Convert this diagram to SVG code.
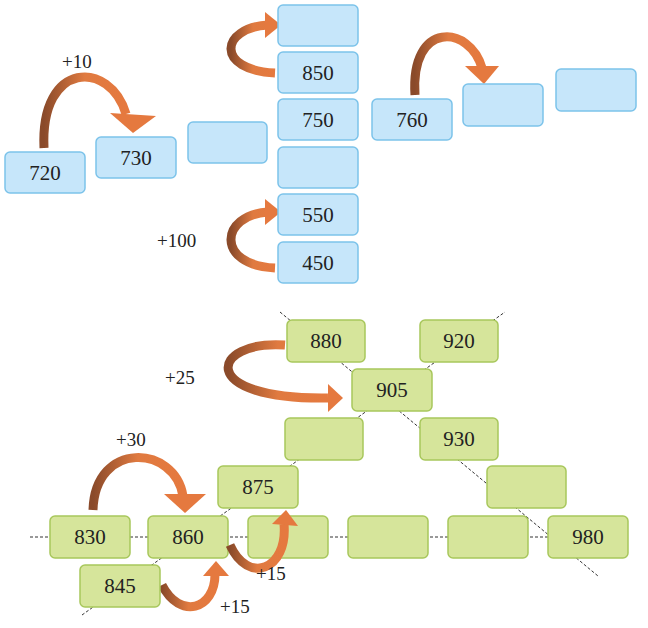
<svg xmlns="http://www.w3.org/2000/svg" width="648" height="628" viewBox="0 0 648 628">
<style>
.b{fill:#c6e6fa;stroke:#7cc3ea;stroke-width:1.5}
.g{fill:#d6e59b;stroke:#a8c75c;stroke-width:1.5}
.t{font-family:"Liberation Serif",serif;font-size:21px;fill:#222;text-anchor:middle}
.l{font-family:"Liberation Serif",serif;font-size:19px;fill:#222}
.a{fill:none;stroke:url(#gr);stroke-width:9}
.h{fill:#e5793f}
.d{stroke:#333;stroke-width:1;stroke-dasharray:3,2;fill:none}
</style>
<defs>
<linearGradient id="gr" x1="0" y1="0" x2="1" y2="0"><stop offset="0" stop-color="#8a4a2a"/><stop offset="0.5" stop-color="#e07a40"/><stop offset="1" stop-color="#e5793f"/></linearGradient>
</defs>
<g id="connectors">
<path class="d" d="M30,537 H548"/>
<path class="d" d="M82,615 L505,312"/>
<path class="d" d="M280,312 L598,576"/>
<path class="a" d="M44,148 C40,60 110,60 126,114"/><polygon class="h" points="133,133 110,113 156,116"/>
<path class="a" d="M275,73 C215,70 220,28 268,25"/><polygon class="h" points="281,25 265,12 265,38"/>
<path class="a" d="M275,268 C215,265 220,215 268,212"/><polygon class="h" points="281,212 265,199 265,225"/>
<path class="a" d="M415,95 C410,20 470,25 482,68"/><polygon class="h" points="484,84 465,66 499,66"/>
<path class="a" d="M285,345 C210,340 195,400 328,398"/><polygon class="h" points="343,398 328,384 328,412"/>
<path class="a" d="M93,510 C95,440 175,445 183,496"/><polygon class="h" points="185,513 164,494 206,494"/>
<path class="a" d="M162,585 C180,620 215,610 215,574"/><polygon class="h" points="216,561 203,576 229,576"/>
</g>
<g id="n720"><rect class="b" x="5" y="152" width="80" height="41" rx="5"/><text class="t" x="45" y="180">720</text></g>
<g id="n730"><rect class="b" x="96" y="137" width="80" height="41" rx="5"/><text class="t" x="136" y="165">730</text></g>
<g id="nb1"><rect class="b" x="188" y="122" width="79" height="41" rx="5"/></g>
<g id="nc1"><rect class="b" x="278" y="5" width="80" height="41" rx="5"/></g>
<g id="n850"><rect class="b" x="278" y="52" width="80" height="41" rx="5"/><text class="t" x="318" y="80">850</text></g>
<g id="n750"><rect class="b" x="278" y="99" width="80" height="41" rx="5"/><text class="t" x="318" y="127">750</text></g>
<g id="nc2"><rect class="b" x="278" y="147" width="80" height="41" rx="5"/></g>
<g id="n550"><rect class="b" x="278" y="194" width="80" height="41" rx="5"/><text class="t" x="318" y="222">550</text></g>
<g id="n450"><rect class="b" x="278" y="242" width="80" height="41" rx="5"/><text class="t" x="318" y="270">450</text></g>
<g id="n760"><rect class="b" x="372" y="99" width="80" height="41" rx="5"/><text class="t" x="412" y="127">760</text></g>
<g id="nb2"><rect class="b" x="463" y="84" width="80" height="42" rx="5"/></g>
<g id="nb3"><rect class="b" x="556" y="69" width="80" height="42" rx="5"/></g>
<g id="n880"><rect class="g" x="287" y="320" width="78" height="42" rx="5"/><text class="t" x="326" y="348">880</text></g>
<g id="n920"><rect class="g" x="420" y="320" width="78" height="42" rx="5"/><text class="t" x="459" y="348">920</text></g>
<g id="n905"><rect class="g" x="352" y="369" width="80" height="42" rx="5"/><text class="t" x="392" y="397">905</text></g>
<g id="ng1"><rect class="g" x="285" y="418" width="78" height="42" rx="5"/></g>
<g id="n930"><rect class="g" x="420" y="418" width="78" height="42" rx="5"/><text class="t" x="459" y="446">930</text></g>
<g id="n875"><rect class="g" x="218" y="466" width="80" height="42" rx="5"/><text class="t" x="258" y="494">875</text></g>
<g id="ng2"><rect class="g" x="487" y="466" width="79" height="42" rx="5"/></g>
<g id="n830"><rect class="g" x="50" y="516" width="80" height="42" rx="5"/><text class="t" x="90" y="544">830</text></g>
<g id="n860"><rect class="g" x="148" y="516" width="80" height="42" rx="5"/><text class="t" x="188" y="544">860</text></g>
<g id="ng3"><rect class="g" x="248" y="516" width="80" height="42" rx="5"/></g>
<g id="ng4"><rect class="g" x="348" y="516" width="80" height="42" rx="5"/></g>
<g id="ng5"><rect class="g" x="448" y="516" width="80" height="42" rx="5"/></g>
<g id="n980"><rect class="g" x="548" y="516" width="80" height="42" rx="5"/><text class="t" x="588" y="544">980</text></g>
<g id="n845"><rect class="g" x="80" y="565" width="80" height="42" rx="5"/><text class="t" x="120" y="593">845</text></g>
<g id="connectors-top">
<path class="a" d="M230,545 C248,585 288,570 284,524"/><polygon class="h" points="286,510 272,524 298,526"/>
</g>
<g id="labels">
<text class="l" x="62" y="68">+10</text>
<text class="l" x="157" y="247">+100</text>
<text class="l" x="165" y="384">+25</text>
<text class="l" x="116" y="446">+30</text>
<text class="l" x="256" y="580">+15</text>
<text class="l" x="220" y="613">+15</text>
</g>
</svg>
